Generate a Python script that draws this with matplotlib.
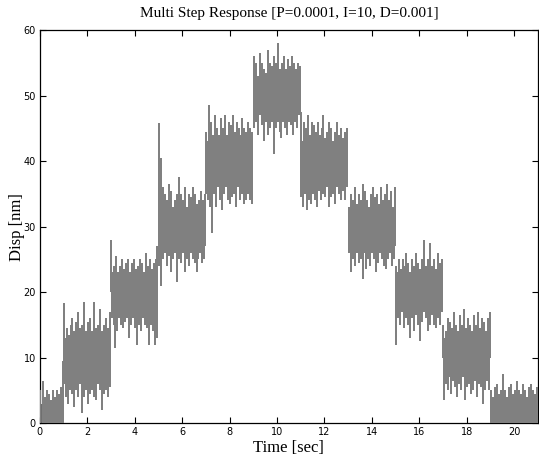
import numpy as np
import matplotlib
matplotlib.use("Agg")
import matplotlib.pyplot as plt

# Step segments (start, end) in seconds and their set-point levels (nm)
seg_start = [0, 1, 3, 5, 7, 9, 11, 13, 15, 17, 19]
seg_end = [1, 3, 5, 7, 9, 11, 13, 15, 17, 19, 21]
levels = [0, 10, 20, 30, 40, 50, 40, 30, 20, 10, 0]

# Dense core band of the noisy response (low, high) per segment
core_low = [-4, 7, 17, 27, 37, 47, 37, 27, 17, 7, -4]
core_high = [3, 13, 23, 33, 43, 53, 43, 33, 23, 13, 3]

# Noise peaks (upper excursions) read per segment, evenly spaced in time
peaks = [
    [5, 6.5, 4, 5, 4.5, 3.5, 5, 4, 5, 4.5, 5.5, 9.5],
    [18.3, 14.5, 13.5, 15, 16, 14, 15.5, 17, 14.5, 15, 18.5, 14, 15.5, 16, 14, 18.5, 14.5, 15, 17.5, 14, 15, 16, 14.5, 17],
    [28, 24, 25.5, 23, 24, 25, 23.5, 24.5, 25, 23, 24.5, 25, 23.5, 24, 25, 24.5, 23, 26, 24, 25, 23.5, 24.5, 25, 27],
    [45.8, 40.4, 36, 35, 34, 36.5, 35.5, 33, 34, 35, 37.5, 35, 34, 36, 33, 35, 34.5, 36, 35, 33.5, 34, 35.5, 34, 35],
    [44.5, 48.5, 46, 44, 47, 45, 44, 46.5, 45, 47, 44, 46, 45.5, 47, 44.5, 46, 45, 44, 46.5, 45, 44.5, 46, 45, 44.5],
    [56, 55, 53, 56.5, 55, 54, 53.5, 57, 55, 54.5, 56, 55, 58, 54, 55, 56, 54, 55.5, 54.5, 56, 55, 54, 55, 54.5],
    [47.5, 46, 45, 47, 44, 46, 45.5, 44.5, 46, 44, 45, 47, 43.5, 44.5, 46, 45, 43, 44.5, 46, 44, 45, 43.5, 44.5, 45],
    [33, 35, 34, 36, 33.5, 35, 34, 36.5, 35.5, 34, 33, 35, 36, 34.5, 35, 33.5, 36, 34, 35, 36.5, 34, 35.5, 33, 36],
    [24, 25, 23.5, 25, 24, 26, 24.5, 23, 25, 24, 26, 24.5, 23.5, 25, 28, 24, 25, 27.5, 24, 25, 23.5, 26, 24.5, 25],
    [15, 14, 16, 15.5, 14.5, 17, 15, 14, 16.5, 15, 17.5, 14.5, 16, 15, 14, 16.5, 15, 17, 14.5, 16, 15.5, 14, 16, 17],
    [5, 4, 5.5, 6, 4.5, 5, 7.5, 5, 4, 5.5, 6, 4.5, 5, 6.5, 5, 4.5, 6, 5, 4, 5.5, 6, 5, 4.5, 5.5],
]

# Noise troughs (lower excursions) read per segment, evenly spaced in time
troughs = [
    [-4, -4, -4, -4, -4, -4, -4, -4, -4, -4, -4, -4],
    [6, 4, 3, 5, 4.5, 2.5, 5, 4, 6, 1.5, 4, 5, 3, 4.5, 5, 4, 3.5, 6, 5, 2, 4.5, 5, 4, 5.5],
    [16, 15, 11.5, 14, 16, 15, 14.5, 15.5, 16, 13, 15, 16, 14.5, 12, 15, 14, 16, 15, 14.5, 12, 15, 14, 12, 13],
    [24, 21, 25, 26, 24, 25.5, 23, 25, 26, 21.5, 25, 24.5, 26, 23, 25, 24, 26, 25, 24.5, 23, 25, 26, 24.5, 25],
    [35, 34, 33, 29, 35, 33, 36, 34, 32.5, 35, 36, 34, 33.5, 34.5, 35, 33, 36, 34, 35, 33.5, 34, 35, 34, 33.5],
    [45, 46, 44, 47, 45.5, 43, 46, 44, 45, 46, 41, 45, 46, 44.5, 43.5, 46, 45, 44, 46, 45.5, 44, 46, 45, 47],
    [34.5, 33, 35, 32.5, 34, 33.5, 35, 34, 33, 35.5, 34, 35, 34.5, 36, 33, 34.5, 35, 33.5, 36, 35, 34, 35.5, 34, 36],
    [26, 23, 25, 24, 26, 24.5, 25, 22, 26, 23.5, 25, 24, 26, 25, 23, 24.5, 26, 25, 24, 23.5, 25, 26, 24, 25],
    [12, 16, 15, 17, 14.5, 16, 15, 13, 16, 14, 16.5, 15, 12.5, 15.5, 17, 16, 14, 15, 16.5, 15, 14.5, 16, 15, 17],
    [3.5, 6, 5, 7, 4.5, 6.5, 5.5, 4, 6, 5, 7, 3.5, 5.5, 6, 4.5, 5, 6.5, 4, 6, 5.5, 3, 5, 6.5, 5],
    [-4, -4, -4, -4, -4, -4, -4, -4, -4, -4, -4, -4, -4, -4, -4, -4, -4, -4, -4, -4, -4, -4, -4, -4],
]

x_ticks = [0, 2, 4, 6, 8, 10, 12, 14, 16, 18, 20]
y_ticks = [0, 10, 20, 30, 40, 50, 60]

fig = plt.figure(figsize=(5.39, 4.61), dpi=100)
ax = fig.add_axes([0.074, 0.082, 0.924, 0.853])

gray = "#808080"

for s, e, lv, lo, hi, pk, tr in zip(seg_start, seg_end, levels, core_low,
                                     core_high, peaks, troughs):
    ax.fill_between([s, e], [lo, lo], [hi, hi], color=gray, lw=0, zorder=2,
                    antialiased=False)
    n = len(pk)
    t = np.linspace(s, e, n + 1)[:-1] + (e - s) / (2 * n)
    t[0] = s + 0.015
    ax.vlines(t, lv, pk, color=gray, lw=1.3, zorder=3, antialiased=False)
    m = len(tr)
    t2 = np.linspace(s, e, m + 1)[:-1] + (e - s) / (2 * m) * 0.5
    ax.vlines(t2, tr, lv, color=gray, lw=1.3, zorder=3, antialiased=False)

ax.set_xlim(0, 21)
ax.set_ylim(0, 60)
ax.set_xticks(x_ticks)
ax.set_yticks(y_ticks)
ax.tick_params(direction="in", top=True, right=True, length=4, width=0.8,
               labelsize=7, pad=3)
for lab in ax.get_xticklabels() + ax.get_yticklabels():
    lab.set_fontfamily("DejaVu Sans")
for sp in ax.spines.values():
    sp.set_linewidth(0.9)

serif = ["Liberation Serif", "DejaVu Serif"]
ax.set_title("Multi Step Response [P=0.0001, I=10, D=0.001]", fontsize=11,
             family=serif, pad=9)
ax.set_xlabel("Time [sec]", fontsize=12, family=serif, labelpad=2)
ax.set_ylabel("Disp [nm]", fontsize=12, family=serif)
ax.yaxis.set_label_coords(-0.03, 0.5)

fig.savefig("out.png", dpi=100)
